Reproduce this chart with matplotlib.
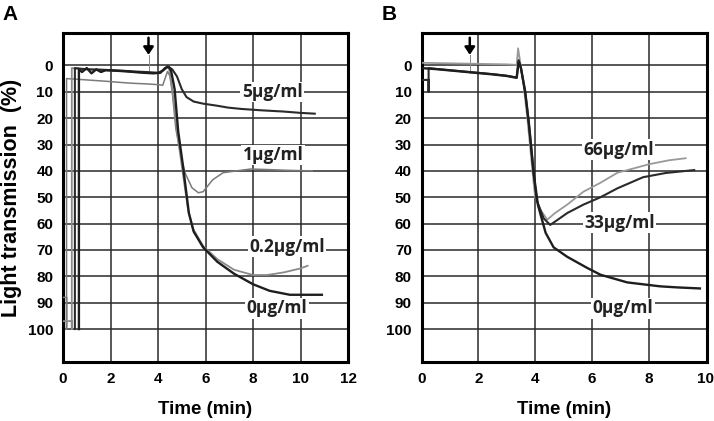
import matplotlib
matplotlib.use("Agg")
import matplotlib.pyplot as plt

# ---------------- data ----------------
# Panel A  (x = time in min, y = light transmission %)
a0_x = [0.67, 0.67, 0.8, 1.0, 1.2, 1.4, 1.6, 1.8, 2.2, 2.6, 3.0, 3.4, 3.8, 4.1, 4.3, 4.45, 4.55, 4.7, 4.85, 5.05, 5.3, 5.5, 5.9, 6.5, 7.2, 8.0, 8.7, 9.55, 10.2, 10.9]
a0_y = [100, 1.5, 2.5, 1.0, 3.0, 1.5, 2.5, 1.8, 2.0, 2.2, 2.5, 2.8, 3.0, 2.8, 1.0, 0.5, 2.0, 9, 25, 38, 56, 63, 69, 74.5, 79, 83, 85.5, 87, 87, 87]

a02_x = [0.0, 0.37, 0.37, 0.37, 0.6, 1.0, 1.5, 2.0, 2.5, 3.0, 3.5, 4.0, 4.3, 4.45, 4.6, 4.8, 5.0, 5.27, 5.48, 5.9, 6.5, 7.2, 8.0, 8.6, 9.3, 10.0, 10.3]
a02_y = [97, 97, 100, 1.0, 1.2, 1.5, 1.8, 2.0, 2.2, 2.5, 2.8, 2.8, 1.5, 0.3, 9, 25, 38, 55, 62, 68.5, 73.5, 77.5, 79.5, 79.5, 78.5, 77, 76]

a1_x = [0.0, 0.15, 0.15, 0.15, 0.5, 1.0, 1.8, 2.5, 3.0, 3.5, 4.0, 4.2, 4.4, 4.5, 4.6, 4.75, 5.0, 5.15, 5.43, 5.7, 5.9, 6.3, 6.74, 7.3, 7.9, 8.6, 9.5, 10.5]
a1_y = [88, 88, 100, 5.0, 5.2, 5.5, 6.0, 6.5, 6.8, 7.0, 7.3, 7.5, 2.3, 4.0, 10, 24, 36, 41, 46.4, 48.3, 47.9, 43.4, 40.7, 40, 39.3, 39.5, 39.8, 40]

a5_x = [0.5, 0.5, 0.8, 1.2, 1.6, 2.0, 2.5, 3.0, 3.5, 4.0, 4.2, 4.4, 4.6, 4.8, 5.0, 5.2, 5.5, 5.9, 6.5, 6.95, 7.5, 8.3, 9.3, 10.0, 10.6]
a5_y = [100, 1.0, 1.3, 1.5, 1.6, 1.8, 2.0, 2.3, 2.5, 2.8, 2.0, 0.3, 1.5, 4.2, 9, 12, 13.7, 14.5, 15.3, 16, 16.5, 17, 17.5, 18, 18.3]

# Panel B
b66_x = [0.0, 0.5, 1.0, 1.5, 2.0, 2.5, 3.0, 3.35, 3.4, 3.45, 3.6, 3.73, 3.9, 4.0, 4.2, 4.43, 4.7, 5.13, 5.7, 6.3, 6.9, 7.25, 8.0, 8.7, 9.3]
b66_y = [-1.0, -0.9, -0.8, -0.7, -0.6, -0.5, -0.4, -0.2, -6.5, -3, 8, 20.5, 39.5, 50, 55, 58.5, 56, 52.8, 47.9, 44.5, 40.7, 39.7, 37.5, 36, 35.2]

b33_x = [0.0, 0.25, 0.25, 0.25, 0.5, 1.0, 1.5, 2.0, 2.5, 3.0, 3.35, 3.42, 3.5, 3.65, 3.78, 3.95, 4.05, 4.3, 4.53, 4.8, 5.13, 5.7, 6.3, 6.9, 7.8, 8.6, 9.6]
b33_y = [5.5, 5.5, 10, 1.0, 1.3, 1.8, 2.3, 2.8, 3.3, 3.9, 4.6, -2, 1, 10, 22, 41, 51, 58, 60.5, 58.5, 56, 52.8, 50, 46.6, 42.4, 40.8, 39.7]

b0_x = [0.0, 0.5, 1.0, 1.5, 2.0, 2.5, 3.0, 3.35, 3.42, 3.5, 3.65, 3.78, 3.95, 4.1, 4.37, 4.65, 5.13, 5.83, 6.3, 7.24, 8.4, 9.0, 9.8]
b0_y = [1.0, 1.4, 1.9, 2.4, 2.9, 3.4, 4.0, 4.7, -1.5, 1, 10, 22, 41, 53, 63.5, 69, 72.6, 76.8, 79.4, 82.3, 83.8, 84.2, 84.6]

# labels
a_labels = ["5μg/ml", "1μg/ml", "0.2μg/ml", "0μg/ml"]
a_label_x = [8.8, 8.85, 9.43, 9.0]
a_label_y = [10.1, 34, 68.8, 92.2]
b_labels = ["66μg/ml", "33μg/ml", "0μg/ml"]
b_label_x = [6.94, 6.98, 7.1]
b_label_y = [32, 59.7, 92.2]

a_xticks = [0, 2, 4, 6, 8, 10, 12]
b_xticks = [0, 2, 4, 6, 8, 10]
yticks = [0, 10, 20, 30, 40, 50, 60, 70, 80, 90, 100]
arrow_a = 3.6
arrow_b = 1.7

# ---------------- figure ----------------
W, H = 714, 421
fig = plt.figure(figsize=(W / 100, H / 100), dpi=100)
axA = fig.add_axes([63 / W, 59 / H, 285 / W, 329 / H])
axB = fig.add_axes([421.5 / W, 59 / H, 285.5 / W, 329 / H])

tickfont = dict(family="Liberation Sans", weight="bold", size=11)
labfont = dict(family=["Open Sans", "DejaVu Sans"], weight="bold", size=12.5)


def style(ax, xmax, xticks):
    ax.set_xlim(0, xmax)
    ax.set_ylim(112.5, -12.3)
    for v in xticks[1:]:
        if v < xmax - 0.1:
            ax.axvline(v, color="#2a2a2a", lw=1.1, zorder=1)
    for v in yticks:
        ax.axhline(v, color="#2a2a2a", lw=1.1, zorder=1)
    ax.set_xticks(xticks)
    ax.set_yticks(yticks)
    ax.set_xticklabels([str(t) for t in xticks], **tickfont)
    ax.set_yticklabels([str(t) for t in yticks], **tickfont)
    ax.tick_params(length=0, pad=7)
    for s in ax.spines.values():
        s.set_linewidth(2.2)
        s.set_color("black")
    ax.set_xlabel("Time (min)", family="Liberation Sans", weight="bold", size=13.5, labelpad=11)


style(axA, 12, a_xticks)
style(axB, 10.05, b_xticks)
axA.set_ylabel("Light transmission  (%)", family="Liberation Sans", weight="bold", size=15.5, labelpad=4)

# traces
axA.plot(a1_x, a1_y, color="#7a7a7a", lw=1.1, zorder=3)
axA.plot(a02_x, a02_y, color="#8a8a8a", lw=1.3, zorder=3)
axA.plot(a5_x, a5_y, color="#2a2a2a", lw=1.5, zorder=4)
axA.plot(a0_x, a0_y, color="#1e1e1e", lw=1.7, zorder=4)

axB.plot(b66_x, b66_y, color="#999999", lw=1.3, zorder=3)
axB.plot(b33_x, b33_y, color="#2a2a2a", lw=1.5, zorder=4)
axB.plot(b0_x, b0_y, color="#1e1e1e", lw=1.7, zorder=4)

for ax, labs, lx, ly in [(axA, a_labels, a_label_x, a_label_y), (axB, b_labels, b_label_x, b_label_y)]:
    for t, x, y in zip(labs, lx, ly):
        ax.text(x, y, t, ha="center", va="center", color="#222222", zorder=6,
                bbox=dict(facecolor="white", edgecolor="none", pad=1.0), **labfont)

# arrows
for ax, xa in [(axA, arrow_a), (axB, arrow_b)]:
    ax.annotate("", xy=(xa, -4.0), xytext=(xa, -10.5),
                arrowprops=dict(arrowstyle="-|>,head_width=0.3,head_length=0.45",
                                color="black", lw=1.8, shrinkA=0, shrinkB=0), zorder=7)
    ax.plot([xa, xa], [-4.0, 3.0], color="#888888", lw=0.7, zorder=2)

fig.text(2 / W, 1 - 15 / H, "A", family="Liberation Sans", weight="bold", size=15, va="center", ha="left")
fig.text(382 / W, 1 - 15 / H, "B", family="Liberation Sans", weight="bold", size=15, va="center", ha="left")

fig.savefig("out.png", dpi=100)
